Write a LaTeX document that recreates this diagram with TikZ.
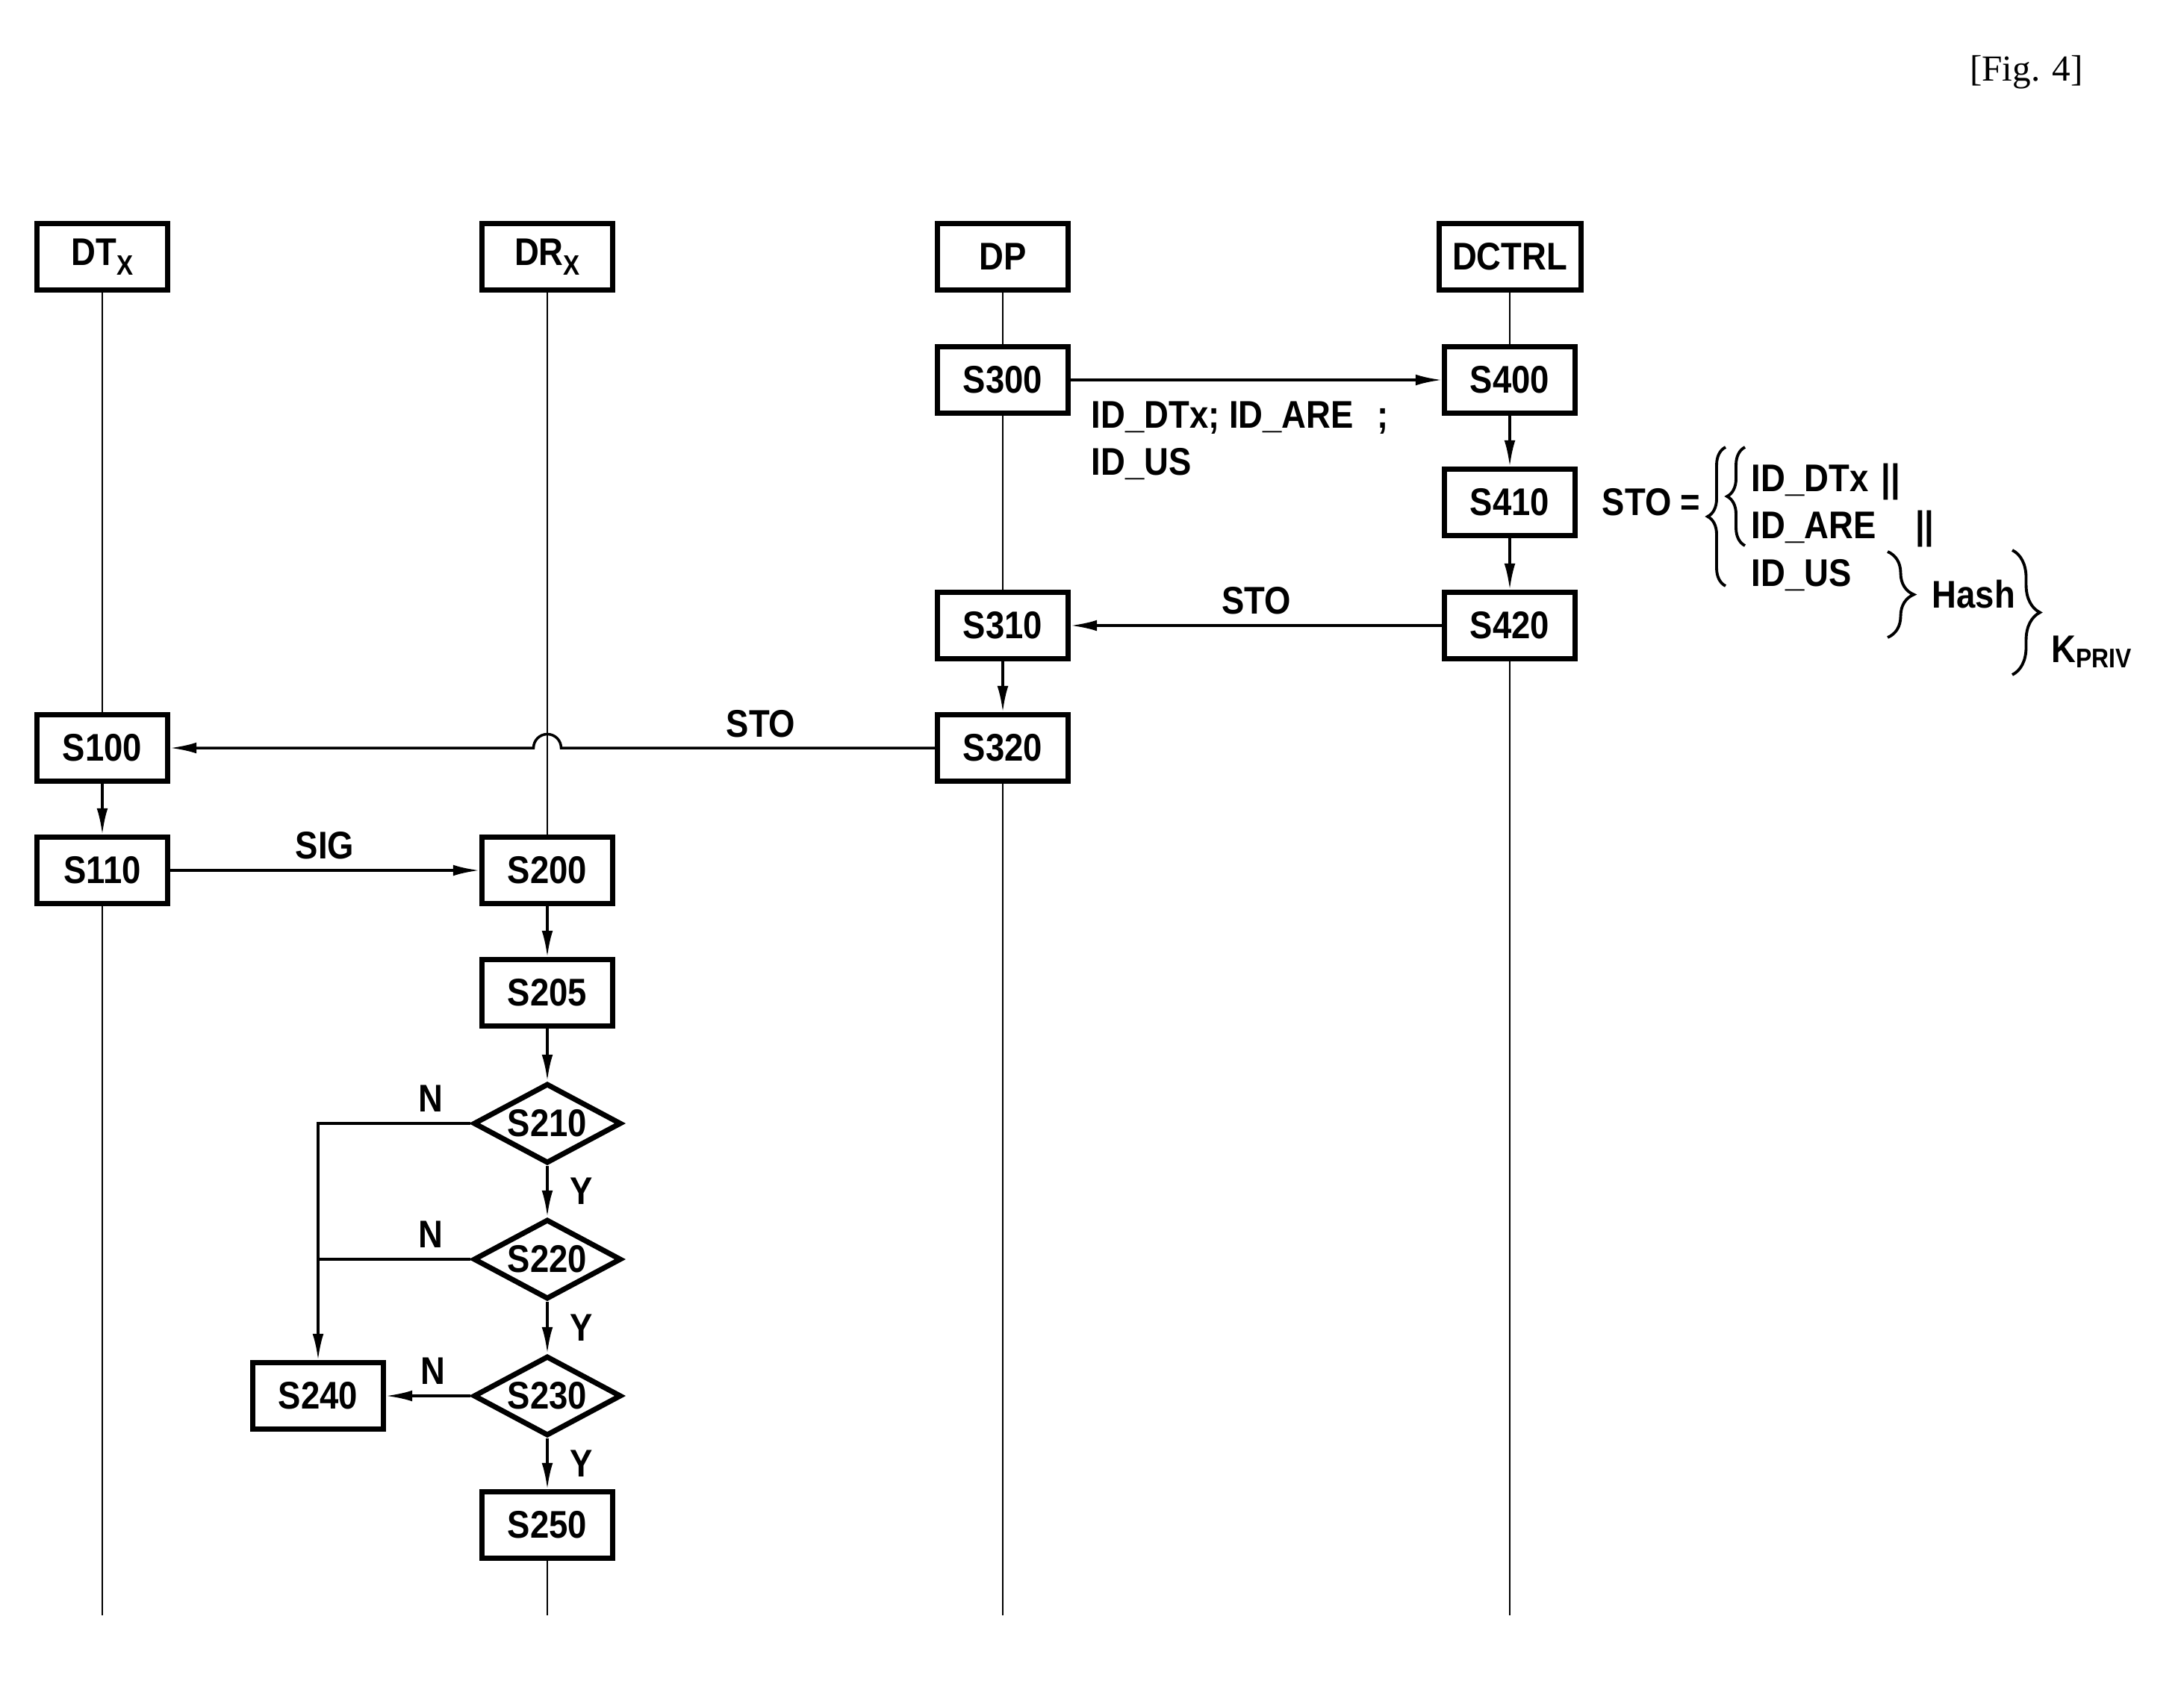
\documentclass[tikz,border=0pt]{standalone}
\usepackage{fontspec}
\setmainfont{Liberation Sans}[FakeStretch=0.88]
\newfontfamily\figfont{Liberation Serif}
\usetikzlibrary{arrows.meta,shapes.geometric,decorations.pathreplacing,calc}

\newcommand{\lowx}{\raisebox{-1.3mm}{\fontsize{10.7}{11}\selectfont X}}

\begin{document}
\begin{tikzpicture}[
	every node/.style={font=\fontsize{14.7}{17.9}\selectfont\bfseries},
	box/.style={draw,line width=2pt,fill=white,minimum width=1.75cm,minimum height=0.89cm,inner sep=0pt},
	test/.style={draw,diamond,aspect=1.85,line width=2pt,fill=white,minimum width=1.98cm,minimum height=1.07cm,inner sep=0pt},
	life/.style={line width=0.8pt},
	link/.style={line width=1pt},
	flow/.style={line width=1pt,-{Latex[length=10pt,width=4.2pt]}},
	lbl/.style={inner sep=3.8pt},
	ylbl/.style={right,inner sep=0pt,xshift=2.9mm},
	txt/.style={anchor=base west,inner sep=0pt},
	brc/.style={decorate,line width=1.1pt}
	]
	\useasboundingbox (0,0) rectangle (29.25,-22.51);
	\fill[white] (0,0) rectangle (29.25,-22.51);
	\node[font=\figfont\fontsize{14}{16}\selectfont] (fig) at (27.14,-0.97) {[Fig. 4]};
	
	%heads
	\node[box] (DT) at (1.37,-3.44) {DT\lowx};
	\node[box] (DR) at (7.33,-3.44) {DR\lowx};
	\node[box] (DP) at (13.43,-3.44) {DP};
	\node[box,minimum width=1.9cm] (DC) at (20.22,-3.44) {DCTRL};
	
	%steps
	\node[box] (S300) at (13.43,-5.09) {S300};
	\node[box] (S400) at (20.22,-5.09) {S400};
	\node[box] (S410) at (20.22,-6.73) {S410};
	\node[box] (S310) at (13.43,-8.38) {S310};
	\node[box] (S420) at (20.22,-8.38) {S420};
	\node[box] (S100) at (1.37,-10.02) {S100};
	\node[box] (S320) at (13.43,-10.02) {S320};
	\node[box] (S110) at (1.37,-11.66) {S110};
	\node[box] (S200) at (7.33,-11.66) {S200};
	\node[box] (S205) at (7.33,-13.30) {S205};
	\node[test] (S210) at (7.33,-15.05) {S210};
	\node[test] (S220) at (7.33,-16.87) {S220};
	\node[test] (S230) at (7.33,-18.70) {S230};
	\node[box] (S240) at (4.26,-18.70) {S240};
	\node[box] (S250) at (7.33,-20.43) {S250};
	
	%lifelines
	\coordinate (bot) at (0,-21.64);
	\draw[life] (DT) -- (S100);
	\draw[life] (S110) -- (S110 |- bot);
	\draw[life] (DR) -- (S200);
	\draw[life] (S250) -- (S250 |- bot);
	\draw[life] (DP) -- (S300);
	\draw[life] (S300) -- (S310);
	\draw[life] (S320) -- (S320 |- bot);
	\draw[life] (DC) -- (S400);
	\draw[life] (S420) -- (S420 |- bot);
	
	%down arrows
	\draw[flow] (S100) -- (S110);
	\draw[flow] (S310) -- (S320);
	\draw[flow] (S400) -- (S410);
	\draw[flow] (S410) -- (S420);
	\draw[flow] (S200) -- (S205);
	\draw[flow] (S205) -- (S210);
	\draw[flow] (S210) -- node[ylbl,midway] {Y} (S220);
	\draw[flow] (S220) -- node[ylbl,midway] {Y} (S230);
	\draw[flow] (S230) -- node[ylbl,midway] {Y} (S250);
	
	%messages
	\draw[flow] (S300) -- (S400);
	\node[align=left,anchor=north west,inner sep=0pt] (ids) at (14.61,-5.375) {ID\_DTx; ID\_ARE\hspace{9pt};\\ID\_US};
	\draw[flow] (S420) -- node[lbl,above,midway] {STO} (S310);
	\coordinate (hop) at (DR |- S100);
	\draw[flow] (S320) -- ($(hop)+(0.185,0)$) arc[start angle=0,end angle=180,radius=0.185] -- (S100);
	\node[lbl,above] (sto) at (10.19,-10.02) {STO};
	\draw[flow] (S110) -- node[lbl,above,midway] {SIG} (S200);
	
	%no branches
	\coordinate (jn) at (S240 |- S210);
	\draw[flow] (S210) -- node[lbl,above,pos=0.26] {N} (jn) -- (S240);
	\draw[link] (S220) -- node[lbl,above,pos=0.26] {N} (S240 |- S220);
	\draw[flow] (S230) -- node[lbl,above,pos=0.45] {N} (S240);
	
	%STO definition
	\node[txt] (def) at (21.45,-6.905) {STO =};
	\draw[brc,decoration={brace,amplitude=0.24cm}] (23.11,-7.85) -- (23.11,-5.99);
	\draw[brc,decoration={brace,amplitude=0.24cm}] (23.37,-7.31) -- (23.37,-5.99);
	\node[txt] (id1) at (23.45,-6.585) {ID\_DTx\hspace{5pt}||};
	\node[txt] (id2) at (23.45,-7.215) {ID\_ARE\hspace{15pt}||};
	\node[txt] (id3) at (23.45,-7.855) {ID\_US};
	\draw[brc,decoration={brace,amplitude=0.35cm}] (25.28,-7.39) -- (25.28,-8.54);
	\node[txt] (hash) at (25.87,-8.145) {Hash};
	\draw[brc,decoration={brace,amplitude=0.37cm}] (26.95,-7.37) -- (26.95,-9.04);
	\node[txt] (key) at (27.47,-8.87) {K\textsubscript{PRIV}};
\end{tikzpicture}
\end{document}
